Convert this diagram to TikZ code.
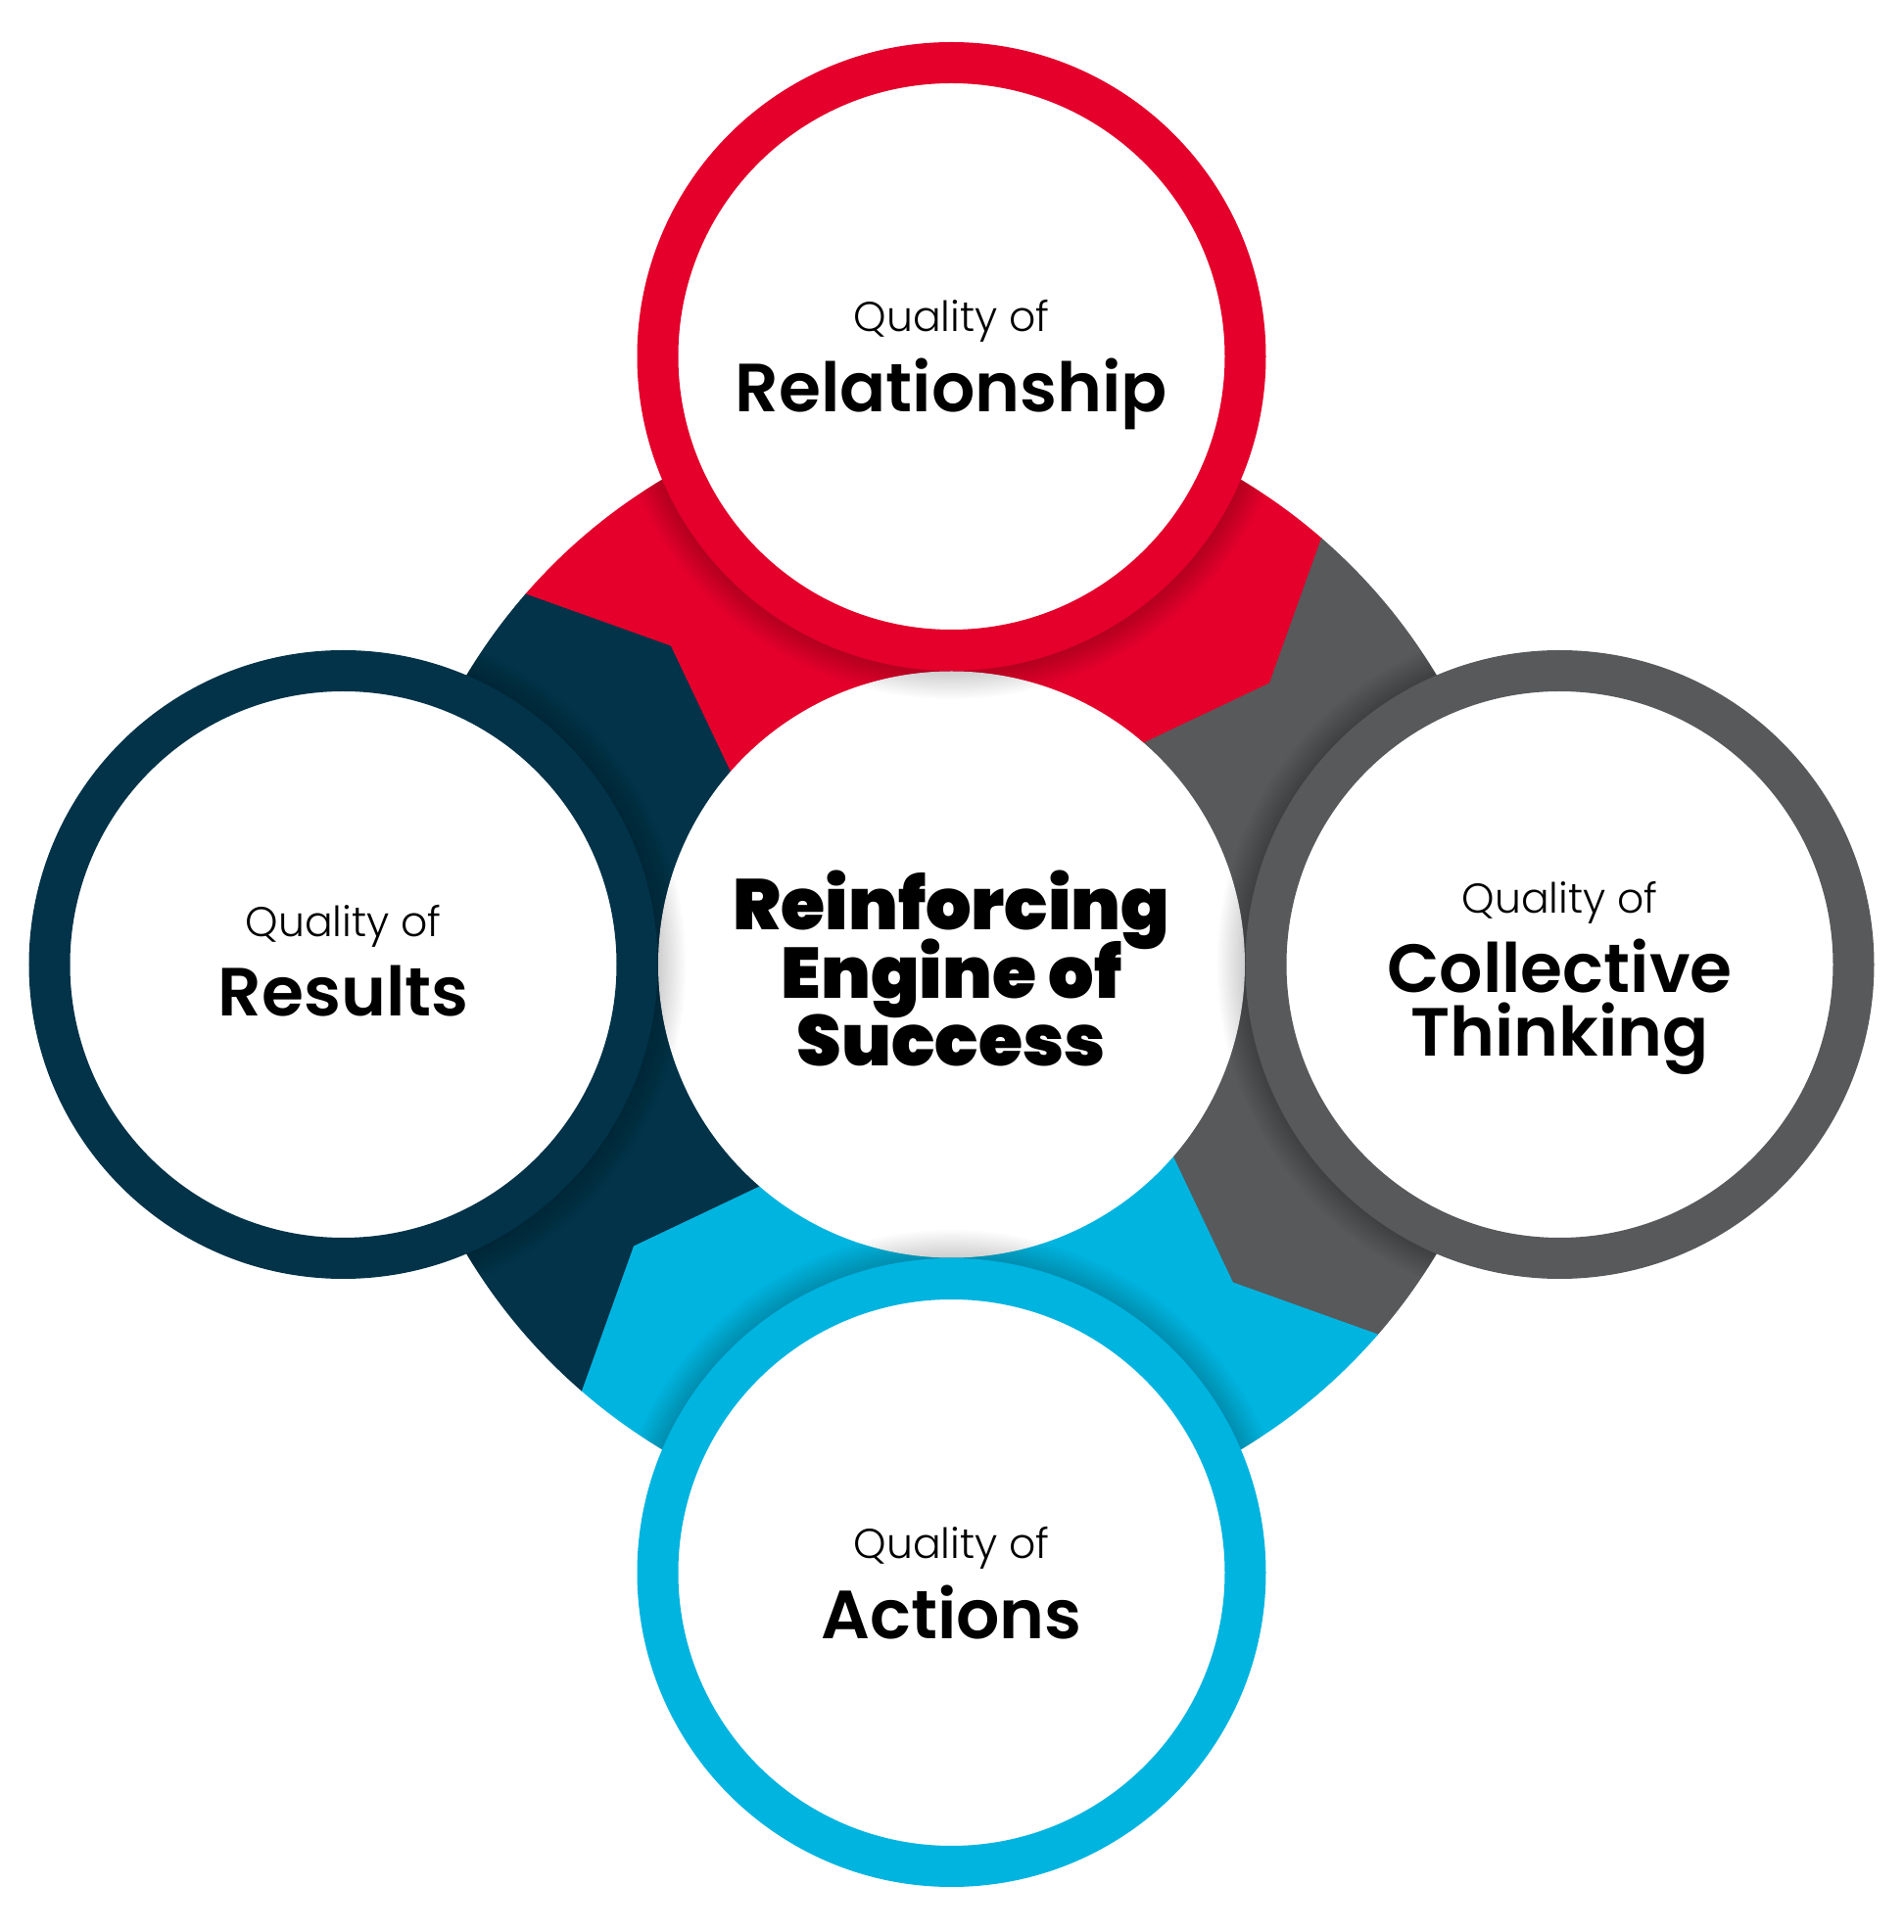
\documentclass[tikz,border=0pt]{standalone}
\usepackage{fontspec}
\setmainfont{Poppins}
\newfontfamily\qlight{Poppins Light}
\newfontfamily\qbold{Poppins SemiBold}
\newfontfamily\qblack{Poppins Black}
\usepackage{xcolor}
\usepackage{tikz}
\usetikzlibrary{positioning}
\definecolor{qred}{HTML}{E4002B}
\definecolor{qnavy}{HTML}{023349}
\definecolor{qgrey}{HTML}{58595B}
\definecolor{qcyan}{HTML}{00B4E0}
\tikzstyle{ring} = [circle, draw, fill=white, line width=0.42cm,
        minimum size=6cm, inner sep=0pt]

\begin{document}
\begin{tikzpicture}[
        hub/.style={circle, fill=white, minimum size=5.99cm, inner sep=0pt},
        qof/.style={anchor=base, inner sep=0pt, font=\qlight\fontsize{12.1}{13}\selectfont},
        qname/.style={anchor=base, inner sep=0pt, font=\qbold\fontsize{19.8}{20}\selectfont},
        core/.style={anchor=base, inner sep=0pt, font=\qblack\fontsize{20.8}{21}\selectfont}
    ]
    \useasboundingbox (0,0) rectangle (19.44,19.73);
    \coordinate (c) at (9.715,9.88);
    \begin{scope}[shift={(c)}]
    % pinwheel segments
    \foreach \a/\col in {139/qred, 49/qgrey, -41/qcyan, -131/qnavy}
        \fill[\col, draw=\col, line width=0.3pt] (\a:5.76)
            arc[start angle=\a, end angle=\a-90, radius=5.76]
            -- ({\a-97.55}:4.336) -- ({\a-90}:2.995) -- (0,0)
            -- (\a:2.995) -- ({\a-7.55}:4.336) -- cycle;
    \coordinate (ptop)   at (0,6.21);
    \coordinate (pright) at (6.21,0);
    \coordinate (pbot)   at (0,-6.21);
    \coordinate (pleft)  at (-6.21,0);
    \end{scope}
    \node (eng) [hub] at (c) {};
    % soft shadows of the rings, only on the engine
    \begin{scope}
    \clip (c) circle (5.77);
    \foreach \p in {ptop,pright,pbot,pleft}
        \foreach \k in {1,...,12}
            \fill[black, opacity=0.015] (\p) circle ({3.21+0.024*\k});
    \end{scope}
    \node (rel) [ring, draw=qred]  at (ptop)   {};
    \node (col) [ring, draw=qgrey] at (pright) {};
    \node (act) [ring, draw=qcyan] at (pbot)   {};
    \node (res) [ring, draw=qnavy] at (pleft)  {};
    \node (relq) [qof]   at ([yshift=0.25cm]rel.center)  {Quality of};
    \node (reln) [qname] at ([yshift=-0.57cm]rel.center) {Relationship};
    \node (colq) [qof]   at ([yshift=0.52cm]col.center)  {Quality of};
    \node (coln) [qname] at ([yshift=-0.29cm]col.center) {Collective};
    \node (colm) [qname] at ([yshift=-0.94cm]col.center) {Thinking};
    \node (actq) [qof]   at ([yshift=0.14cm]act.center)  {Quality of};
    \node (actn) [qname] at ([yshift=-0.67cm]act.center) {Actions};
    \node (resq) [qof]   at ([yshift=0.28cm]res.center)  {Quality of};
    \node (resn) [qname] at ([yshift=-0.53cm]res.center) {Results};
    \node (eng1) [core] at ([yshift=0.35cm]eng.center)  {Reinforcing};
    \node (eng2) [core] at ([yshift=-0.35cm]eng.center) {Engine of};
    \node (eng3) [core] at ([yshift=-1.04cm]eng.center) {Success};
\end{tikzpicture}
\end{document}
